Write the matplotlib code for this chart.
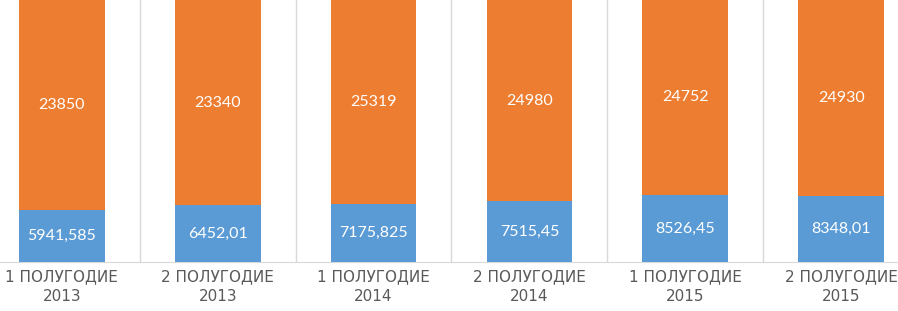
import matplotlib
matplotlib.use("Agg")
import matplotlib.pyplot as plt
import numpy as np

categories = ["1 ПОЛУГОДИЕ\n2013", "2 ПОЛУГОДИЕ\n2013", "1 ПОЛУГОДИЕ\n2014",
              "2 ПОЛУГОДИЕ\n2014", "1 ПОЛУГОДИЕ\n2015", "2 ПОЛУГОДИЕ\n2015"]
blue_values = [5941.585, 6452.01, 7175.825, 7515.45, 8526.45, 8348.01]
blue_labels = ["5941,585", "6452,01", "7175,825", "7515,45", "8526,45", "8348,01"]
orange_values = [23850, 23340, 25319, 24980, 24752, 24930]
orange_labels = ["23850", "23340", "25319", "24980", "24752", "24930"]

blue = np.array(blue_values)
orange = np.array(orange_values)
total = blue + orange
bshare = blue / total
oshare = orange / total

fig = plt.figure(figsize=(8.98, 3.11), dpi=100)
W, H = 898, 311
left_px, right_px = -16, 919
ax = fig.add_axes([left_px / W, 49 / H, (right_px - left_px) / W, 262 / H])

x = np.arange(len(categories))
bw = 0.55
ax.bar(x, bshare, width=bw, color="#5B9BD5", zorder=3)
ax.bar(x, oshare, bottom=bshare, width=bw, color="#ED7D31", zorder=3)

font = "Lato"
for i in range(len(x)):
    ax.text(x[i], bshare[i] / 2, blue_labels[i], ha="center", va="center",
            color="white", fontsize=11.5, family=font, zorder=4)
    ax.text(x[i], bshare[i] + oshare[i] / 2, orange_labels[i], ha="center", va="center",
            color="white", fontsize=11.5, family=font, zorder=4)

for b in np.arange(-0.5, len(x) + 0.5, 1.0):
    ax.axvline(b, color="#D9D9D9", lw=1, zorder=1)

ax.set_xlim(-0.5, len(x) - 0.5)
ax.set_ylim(0, 1)
ax.set_xticks(x)
ax.set_xticklabels(categories, fontsize=11, color="#595959", family="DejaVu Sans",
                   linespacing=1.45)
ax.tick_params(axis="x", length=0, pad=5)
ax.set_yticks([])
for s in ["top", "right", "left"]:
    ax.spines[s].set_visible(False)
ax.spines["bottom"].set_color("#D9D9D9")

fig.savefig("out.png", dpi=100)
